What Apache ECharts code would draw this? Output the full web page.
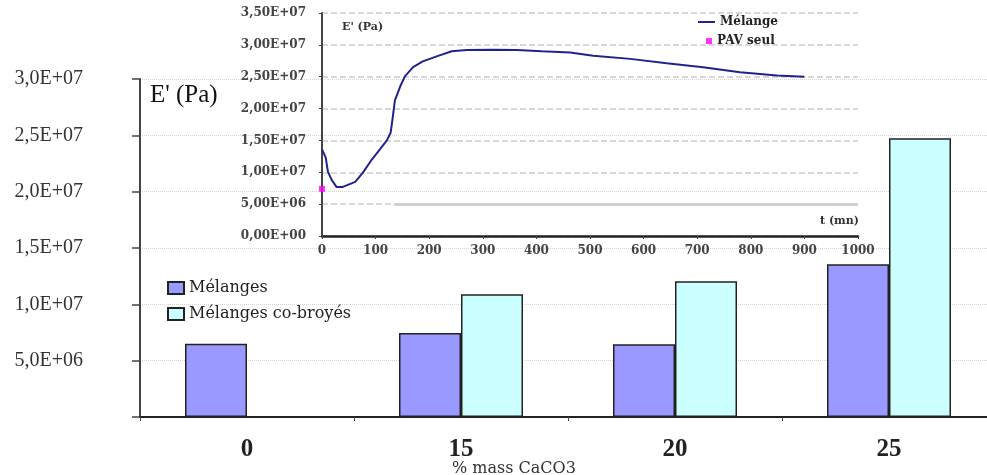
<!DOCTYPE html>
<html><head><meta charset="utf-8">
<script src="https://cdn.jsdelivr.net/npm/echarts@6/dist/echarts.min.js"></script>
<style>html,body{margin:0;padding:0;background:#fff}#c{width:987px;height:475px}</style>
</head><body><div id="c"></div>
<script>
// ---- main bar chart data ----
const categories = ['0', '15', '20', '25'];
const melanges = [6.5e6, 7.45e6, 6.45e6, 1.355e7];
const cobroyes = [null, 1.09e7, 1.205e7, 2.475e7];
const mainYTickLabels = ['', '5,0E+06', '1,0E+07', '1,5E+07', '2,0E+07', '2,5E+07', '3,0E+07'];

// ---- inset line chart data ----
const insetTime = [0, 7, 11, 18, 27, 39, 62, 76, 93, 108, 121, 128, 132, 136, 146, 155, 170, 188, 214, 242, 270, 320, 363, 410, 463, 506, 575, 643, 711, 780, 849, 900];
const insetE = [13.6e6, 12.3e6, 10.1e6, 8.8e6, 7.7e6, 7.7e6, 8.5e6, 9.9e6, 12.0e6, 13.6e6, 15.0e6, 16.2e6, 18.6e6, 21.3e6, 23.5e6, 25.1e6, 26.5e6, 27.4e6, 28.2e6, 29.0e6, 29.2e6, 29.25e6, 29.2e6, 29.0e6, 28.8e6, 28.3e6, 27.8e6, 27.1e6, 26.5e6, 25.7e6, 25.2e6, 25.0e6];
const pavTime = [0];
const pavE = [7.4e6];
const insetYTickLabels = ['0,00E+00', '5,00E+06', '1,00E+07', '1,50E+07', '2,00E+07', '2,50E+07', '3,00E+07', '3,50E+07'];
const insetXTickLabels = ['0', '100', '200', '300', '400', '500', '600', '700', '800', '900', '1000'];

const serif = 'Liberation Serif, serif';
const dserif = 'DejaVu Serif, serif';

const chart = echarts.init(document.getElementById('c'), null, {renderer: 'canvas'});
const option = {
  backgroundColor: '#ffffff',
  animation: false,
  title: [
    {text: "E' (Pa)", left: 145, top: 78, textStyle: {fontFamily: serif, fontSize: 25, fontWeight: 'normal', color: '#111'}},
    {text: '% mass CaCO3', left: 447, top: 456, textStyle: {fontFamily: dserif, fontSize: 16, fontWeight: 'normal', color: '#333'}},
    {text: "E' (Pa)", left: 337, top: 17, textStyle: {fontFamily: dserif, fontSize: 11, fontWeight: 'bold', color: '#333'}},
    {text: 't (mn)', left: 815, top: 211, textStyle: {fontFamily: dserif, fontSize: 11, fontWeight: 'bold', color: '#333'}}
  ],
  legend: [
    {data: ['Mélanges', 'Mélanges co-broyés'], orient: 'vertical', left: 162, top: 275, itemWidth: 16, itemHeight: 12, itemGap: 10,
     icon: 'rect', textStyle: {fontFamily: dserif, fontSize: 16, color: '#222'}},
    {data: ['Mélange'], left: 693, top: 11, itemWidth: 17, itemHeight: 6, icon: 'path://M0,4 L17,4 L17,6 L0,6 Z',
     textStyle: {fontFamily: dserif, fontSize: 12, fontWeight: 'bold', color: '#222'}},
    {data: ['PAV seul'], left: 701, top: 30, itemWidth: 6, itemHeight: 6, icon: 'rect', textStyle: {fontFamily: dserif, fontSize: 12, fontWeight: 'bold', color: '#222'}}
  ],
  grid: [
    {left: 140, top: 79, width: 856, height: 338, containLabel: false, outerBoundsMode: 'none'},
    {left: 322, top: 13, width: 536, height: 223, containLabel: false, outerBoundsMode: 'none'}
  ],
  xAxis: [
    {type: 'category', gridIndex: 0, data: categories,
     axisLine: {lineStyle: {color: '#222', width: 2}},
     axisTick: {show: true, length: 4, lineStyle: {color: '#444'}},
     axisLabel: {fontFamily: serif, fontSize: 25, fontWeight: 'bold', color: '#222', margin: 20},
     splitLine: {show: false}},
    {type: 'value', gridIndex: 1, min: 0, max: 1000, interval: 100,
     axisLine: {lineStyle: {color: '#222', width: 2.5}},
     axisTick: {show: true, length: 3, lineStyle: {color: '#444'}},
     axisLabel: {fontFamily: dserif, fontSize: 12, fontWeight: 'bold', color: '#444', margin: 9,
       formatter: (v) => insetXTickLabels[Math.round(v / 100)]},
     splitLine: {show: false}}
  ],
  yAxis: [
    {type: 'value', gridIndex: 0, min: 0, max: 3e7, interval: 5e6,
     axisLine: {show: true, lineStyle: {color: '#444', width: 2}},
     axisTick: {show: true, length: 8, lineStyle: {color: '#444', width: 1.5}},
     axisLabel: {fontFamily: serif, fontSize: 20, color: '#333', margin: 57,
       formatter: (v) => mainYTickLabels[Math.round(v / 5e6)]},
     splitLine: {show: true, lineStyle: {color: '#d4d4d4', type: 'dotted', width: 1}}},
    {type: 'value', gridIndex: 1, min: 0, max: 3.5e7, interval: 5e6,
     axisLine: {show: true, lineStyle: {color: '#444', width: 2}},
     axisTick: {show: true, length: 3, lineStyle: {color: '#444'}},
     axisLabel: {fontFamily: dserif, fontSize: 12, fontWeight: 'bold', color: '#444', margin: 16,
       formatter: (v) => insetYTickLabels[Math.round(v / 5e6)]},
     splitLine: {show: true, lineStyle: {color: '#cccccc', type: [6, 3], width: 1.5}}}
  ],
  series: [
    {name: 'Mélanges', type: 'bar', xAxisIndex: 0, yAxisIndex: 0, data: melanges, barWidth: 62, barGap: '0%',
     itemStyle: {color: '#9999ff', borderColor: '#222', borderWidth: 1.5}},
    {name: 'Mélanges co-broyés', type: 'bar', xAxisIndex: 0, yAxisIndex: 0, data: cobroyes, barWidth: 62, barGap: '0%',
     itemStyle: {color: '#ccffff', borderColor: '#222', borderWidth: 1.5}},
    {name: 'Mélange', type: 'line', xAxisIndex: 1, yAxisIndex: 1, symbol: 'none', smooth: false,
     data: insetTime.map((t, i) => [t, insetE[i]]),
     lineStyle: {color: '#22228c', width: 2}, itemStyle: {color: '#22228c'},
     markLine: {silent: true, symbol: 'none', label: {show: false},
       lineStyle: {color: '#d0d0d0', type: 'solid', width: 3},
       data: [[{coord: [136, 5e6]}, {coord: [1000, 5e6]}]]}},
    {name: 'PAV seul', type: 'scatter', xAxisIndex: 1, yAxisIndex: 1, symbol: 'rect', symbolSize: 6,
     data: pavTime.map((t, i) => [t, pavE[i]]), itemStyle: {color: '#ff00ff'}}
  ]
};
chart.setOption(option);
</script>
</body></html>
